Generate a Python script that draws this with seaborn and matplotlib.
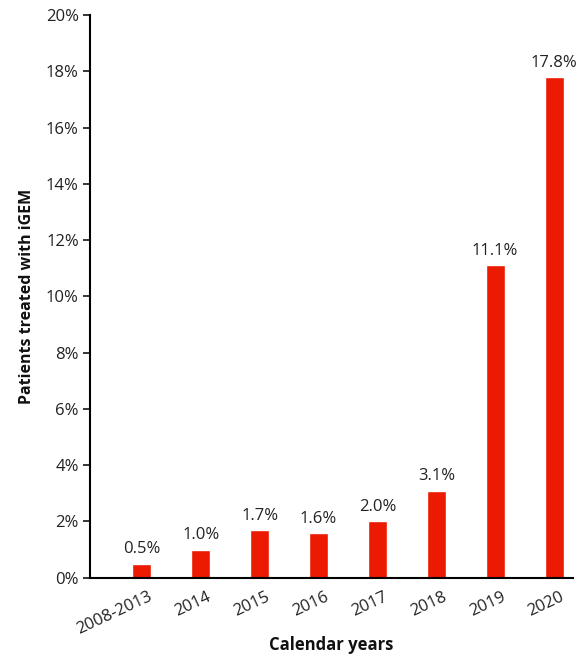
import seaborn as sns
import matplotlib.pyplot as plt
import matplotlib.transforms as mtransforms
import pandas as pd

# values
years = ["2008-2013", "2014", "2015", "2016", "2017", "2018", "2019", "2020"]
percent = [0.5, 1.0, 1.7, 1.6, 2.0, 3.1, 11.1, 17.8]
y_ticks = [0, 2, 4, 6, 8, 10, 12, 14, 16, 18, 20]

sns.set_style("white")
plt.rcParams['font.family'] = ['Open Sans', 'DejaVu Sans']

df = pd.DataFrame({"Year": years, "Percent": percent})

fig = plt.figure(figsize=(5.77, 6.55), dpi=100)
ax = fig.add_axes([0.156, 0.118, 0.837, 0.859])

sns.barplot(data=df, x="Year", y="Percent", color="#EB1A00", width=0.32,
            saturation=1, ax=ax)

# value labels above bars
for i, v in enumerate(percent):
    ax.text(i, v + 0.22, f"{v:.1f}%", ha="center", va="bottom", fontsize=12, color="#222222")

ax.set_ylim(0, 20)
ax.set_xlim(-0.88, 7.32)
ax.set_yticks(y_ticks)
ax.set_yticklabels([f"{t}%" for t in y_ticks], fontsize=12, color="#222222")
ax.tick_params(axis="y", length=5, width=1.3, direction="out", left=True, pad=3)
ax.tick_params(axis="x", length=0, pad=8)
# rotated year labels, right end a little past the bar centre
shift = mtransforms.ScaledTranslation(6 / 100, 0, fig.dpi_scale_trans)
for lab in ax.get_xticklabels():
    lab.set_rotation(25)
    lab.set_ha("right")
    lab.set_rotation_mode("anchor")
    lab.set_fontsize(12)
    lab.set_color("#222222")
    lab.set_transform(lab.get_transform() + shift)

sns.despine(ax=ax)
for s in ["left", "bottom"]:
    ax.spines[s].set_linewidth(1.5)
    ax.spines[s].set_color("black")

ax.set_xlabel("Calendar years", fontsize=12, fontweight="bold", color="#111111")
ax.xaxis.set_label_coords(0.5, -0.12)
ax.xaxis.label.set_va("center")
ax.set_ylabel("Patients treated with iGEM", fontsize=11.5, fontweight="bold",
              color="#111111", labelpad=8)

fig.savefig("out.png", dpi=100)
